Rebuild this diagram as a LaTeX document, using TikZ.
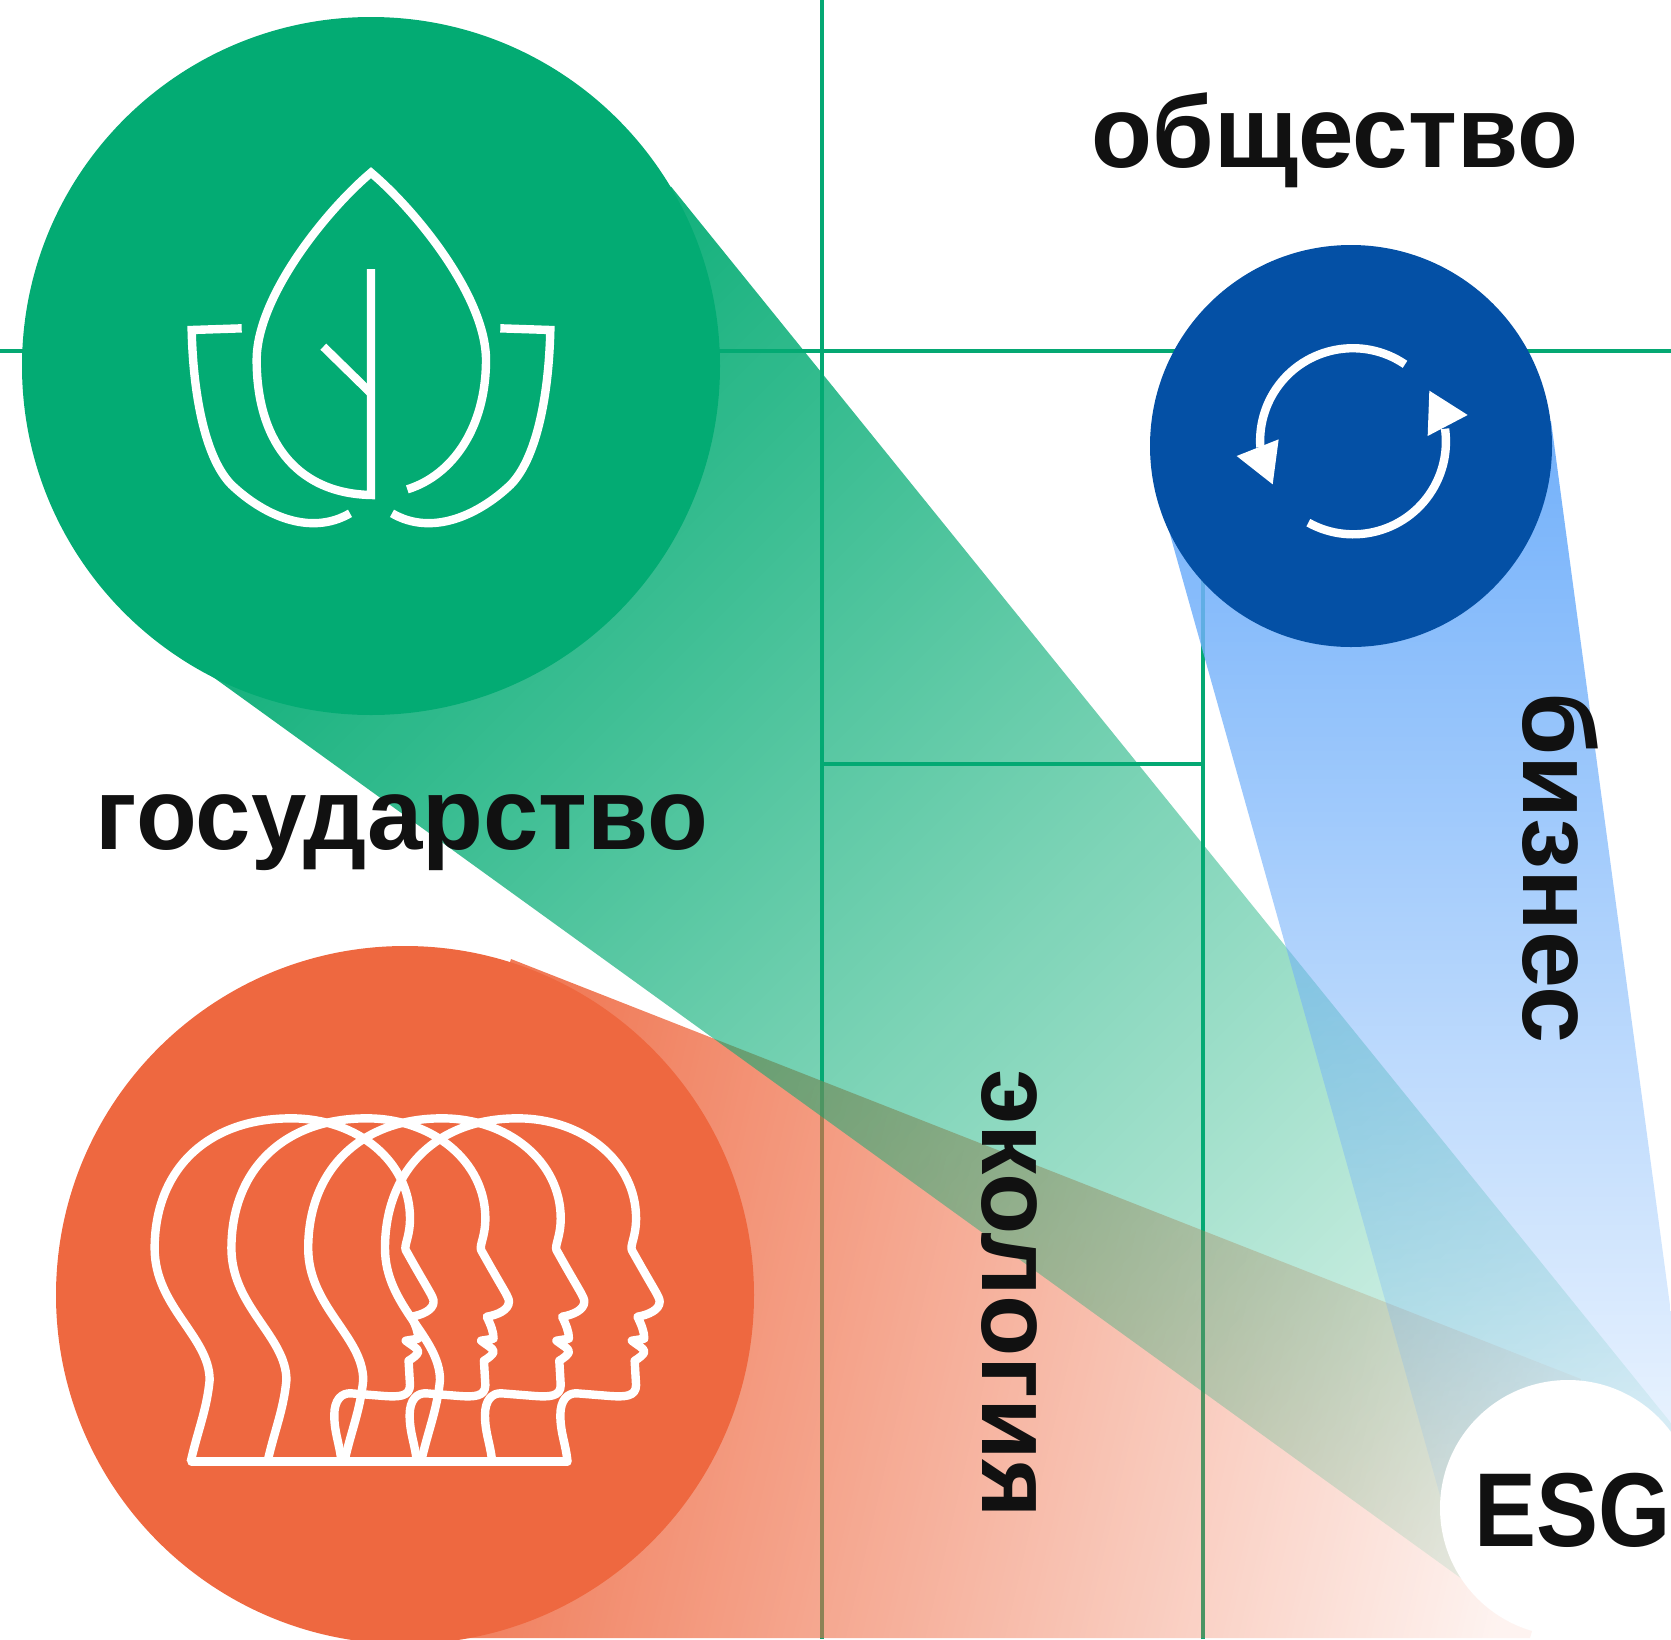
\documentclass[tikz,border=0pt]{standalone}
\usepackage{fontspec}
\setmainfont{Liberation Sans}
\usetikzlibrary{fadings}
\definecolor{cgreen}{HTML}{03AB73}
\definecolor{cline}{HTML}{05A873}
\definecolor{cblue}{HTML}{0450A5}
\definecolor{cbeam}{HTML}{72B0FA}
\definecolor{corange}{HTML}{EE6840}
\definecolor{ctext}{HTML}{111111}
\tikzfading[name=fgreen, left color=transparent!6, right color=transparent!92]
\tikzfading[name=fblue, left color=transparent!0, right color=transparent!90]
\tikzfading[name=forange, left color=transparent!12, right color=transparent!92]
\tikzset{
  gridline/.style={cline,line width=4.4pt},
  icon/.style={white,line width=8.4pt,miter limit=10},
  lbl/.style={inner sep=0pt,text=ctext,font=\fontsize{102}{102}\selectfont\bfseries},
  esglbl/.style={inner sep=0pt,text=ctext,font=\fontsize{105}{105}\selectfont\bfseries},
}
\newcommand{\headpath}[2]{%
 ({1225+#1},1115) .. controls ({1220+#1},1060) and ({1205+#1},1030) .. ({1205+#1},975)
 .. controls ({1205+#1},930) and ({1225+#1},908) .. ({1252+#1},910)
 -- ({1345+#1},918) .. controls ({1385+#1},921) and ({1417+#1},920) .. ({1417+#1},885)
 -- ({1413+#1},812) .. controls ({1425+#1},805) and ({1440+#1},792) .. ({1440+#1},785)
 .. controls ({1440+#1},775) and ({1420+#1},765) .. ({1405+#1},752)
 -- ({1440+#1},746) .. controls ({1440+#1},725) and ({1432+#1},705) .. ({1421+#1},680)
 .. controls ({1450+#1},675) and ({1483+#1},660) .. ({1483+#1},635)
 .. controls ({1483+#1},620) and ({1470+#1},605) .. ({1405+#1},480)
 .. controls ({1400+#1},465) and ({1417+#1},440) .. ({1417+#1},385)
 .. controls ({1417+#1},215) and ({1270+#1},85) .. ({1085+#1},85)
 .. controls ({860+#2},85) and ({714+#2},240) .. ({714+#2},475)
 .. controls ({714+#2},650) and ({868+#2},740) .. ({868+#2},870)
 .. controls ({860+#2},960) and ({835+#2},1020) .. ({815+#2},1115)
}
\begin{document}
\begin{tikzpicture}[x=1pt,y=-1pt]
\useasboundingbox (0,0) rectangle (1671,1639);
\clip (0,0) rectangle (1671,1639);
% grid
\draw[gridline] (0,351) -- (1671,351);
\draw[gridline] (822,0) -- (822,1639);
\draw[gridline] (1203,520) -- (1203,1639);
\draw[gridline] (822,764) -- (1203,764);
% beams
\begin{scope}
\clip (511,959) -- (1581,1379) -- (1568,1508) -- (1530,1638) -- (405,1638) -- (405,1295) -- cycle;
\fill[corange,path fading=forange,fit fading=false,fading transform={shift={(1030,1300)},rotate=-13,scale=21}]
  (-200,-200) rectangle (1871,1839);
\end{scope}
\begin{scope}
\clip (671,186.5) -- (1671,1423) -- (1671,1508) -- (1568,1508) -- (1480,1592) -- (213,677) -- (371,366) -- cycle;
\fill[cgreen,path fading=fgreen,fit fading=false,fading transform={shift={(983,983)},rotate=-45,scale=31.2}]
  (-200,-200) rectangle (1871,1839);
\end{scope}
\begin{scope}
\clip (1551,421) -- (1671,1313) -- (1671,1508) -- (1568,1508) -- (1441,1499) -- (1162,506) -- (1351,446) -- cycle;
\fill[cbeam,path fading=fblue,fit fading=false,fading transform={shift={(1350,965)},rotate=-90,scale=21.7}]
  (-200,-200) rectangle (1871,1839);
\end{scope}
% circles
\fill[cgreen] (371,366) circle[radius=349];
\fill[cblue] (1351,446) circle[radius=201];
\fill[corange] (405,1295) circle[radius=349];
\fill[white] (1568,1508) circle[radius=128];
% leaf icon
\begin{scope}[shift={(170,150)},x=0.33333pt,y=-0.33333pt]
\draw[icon] (603,357) -- (603,1035) .. controls (370,1030) and (260,860) .. (260,630)
  .. controls (260,440) and (470,180) .. (603,68)
  .. controls (736,180) and (948,440) .. (948,630)
  .. controls (948,830) and (850,975) .. (712,1018);
\draw[icon] (460,590) -- (603,730);
\draw[icon] (215,535) -- (65,540) .. controls (70,750) and (110,930) .. (185,1005)
  .. controls (280,1095) and (420,1160) .. (540,1090);
\draw[icon] (991,535) -- (1141,540) .. controls (1136,750) and (1096,930) .. (1021,1005)
  .. controls (926,1095) and (786,1160) .. (666,1090);
\end{scope}
% cycle icon
\begin{scope}[shift={(1200,320)},x=0.33333pt,y=-0.33333pt]
\draw[icon] (615,133) arc[start angle=-55.7,end angle=-184,radius=278];
\draw[icon] (325,608) arc[start angle=-241,end angle=-368,radius=278];
\fill[white] (110,408) -- (236,358) -- (218,493) -- cycle;
\fill[white] (688,212) -- (803,285) -- (683,348) -- cycle;
\end{scope}
% heads icon
\begin{scope}[shift={(130,1090)},x=0.35714pt,y=-0.33333pt]
\draw[icon,line join=round] \headpath{-633}{-645};
\draw[icon,line join=round] \headpath{-422}{-430};
\draw[icon,line join=round] \headpath{-211}{-215};
\draw[icon,line join=round] \headpath{0}{0};
\draw[icon,line cap=round] (172,1115) -- (1225,1115);
\end{scope}
% labels
\node[lbl,anchor=base] (society) at (1335,167) {\scalebox{.978}[1]{общество}};
\node[lbl,anchor=base] (state) at (402,849) {\scalebox{.976}[1]{государство}};
\node[lbl,anchor=base,rotate=-90] (business) at (1523,868) {\scalebox{1.005}[1]{бизнес}};
\node[lbl,anchor=base,rotate=-90] (ecology) at (982,1294) {\scalebox{.984}[1]{экология}};
\node[esglbl,anchor=base west] (esg) at (1474,1546) {\scalebox{.885}[1]{ESG}};
\end{tikzpicture}
\end{document}
